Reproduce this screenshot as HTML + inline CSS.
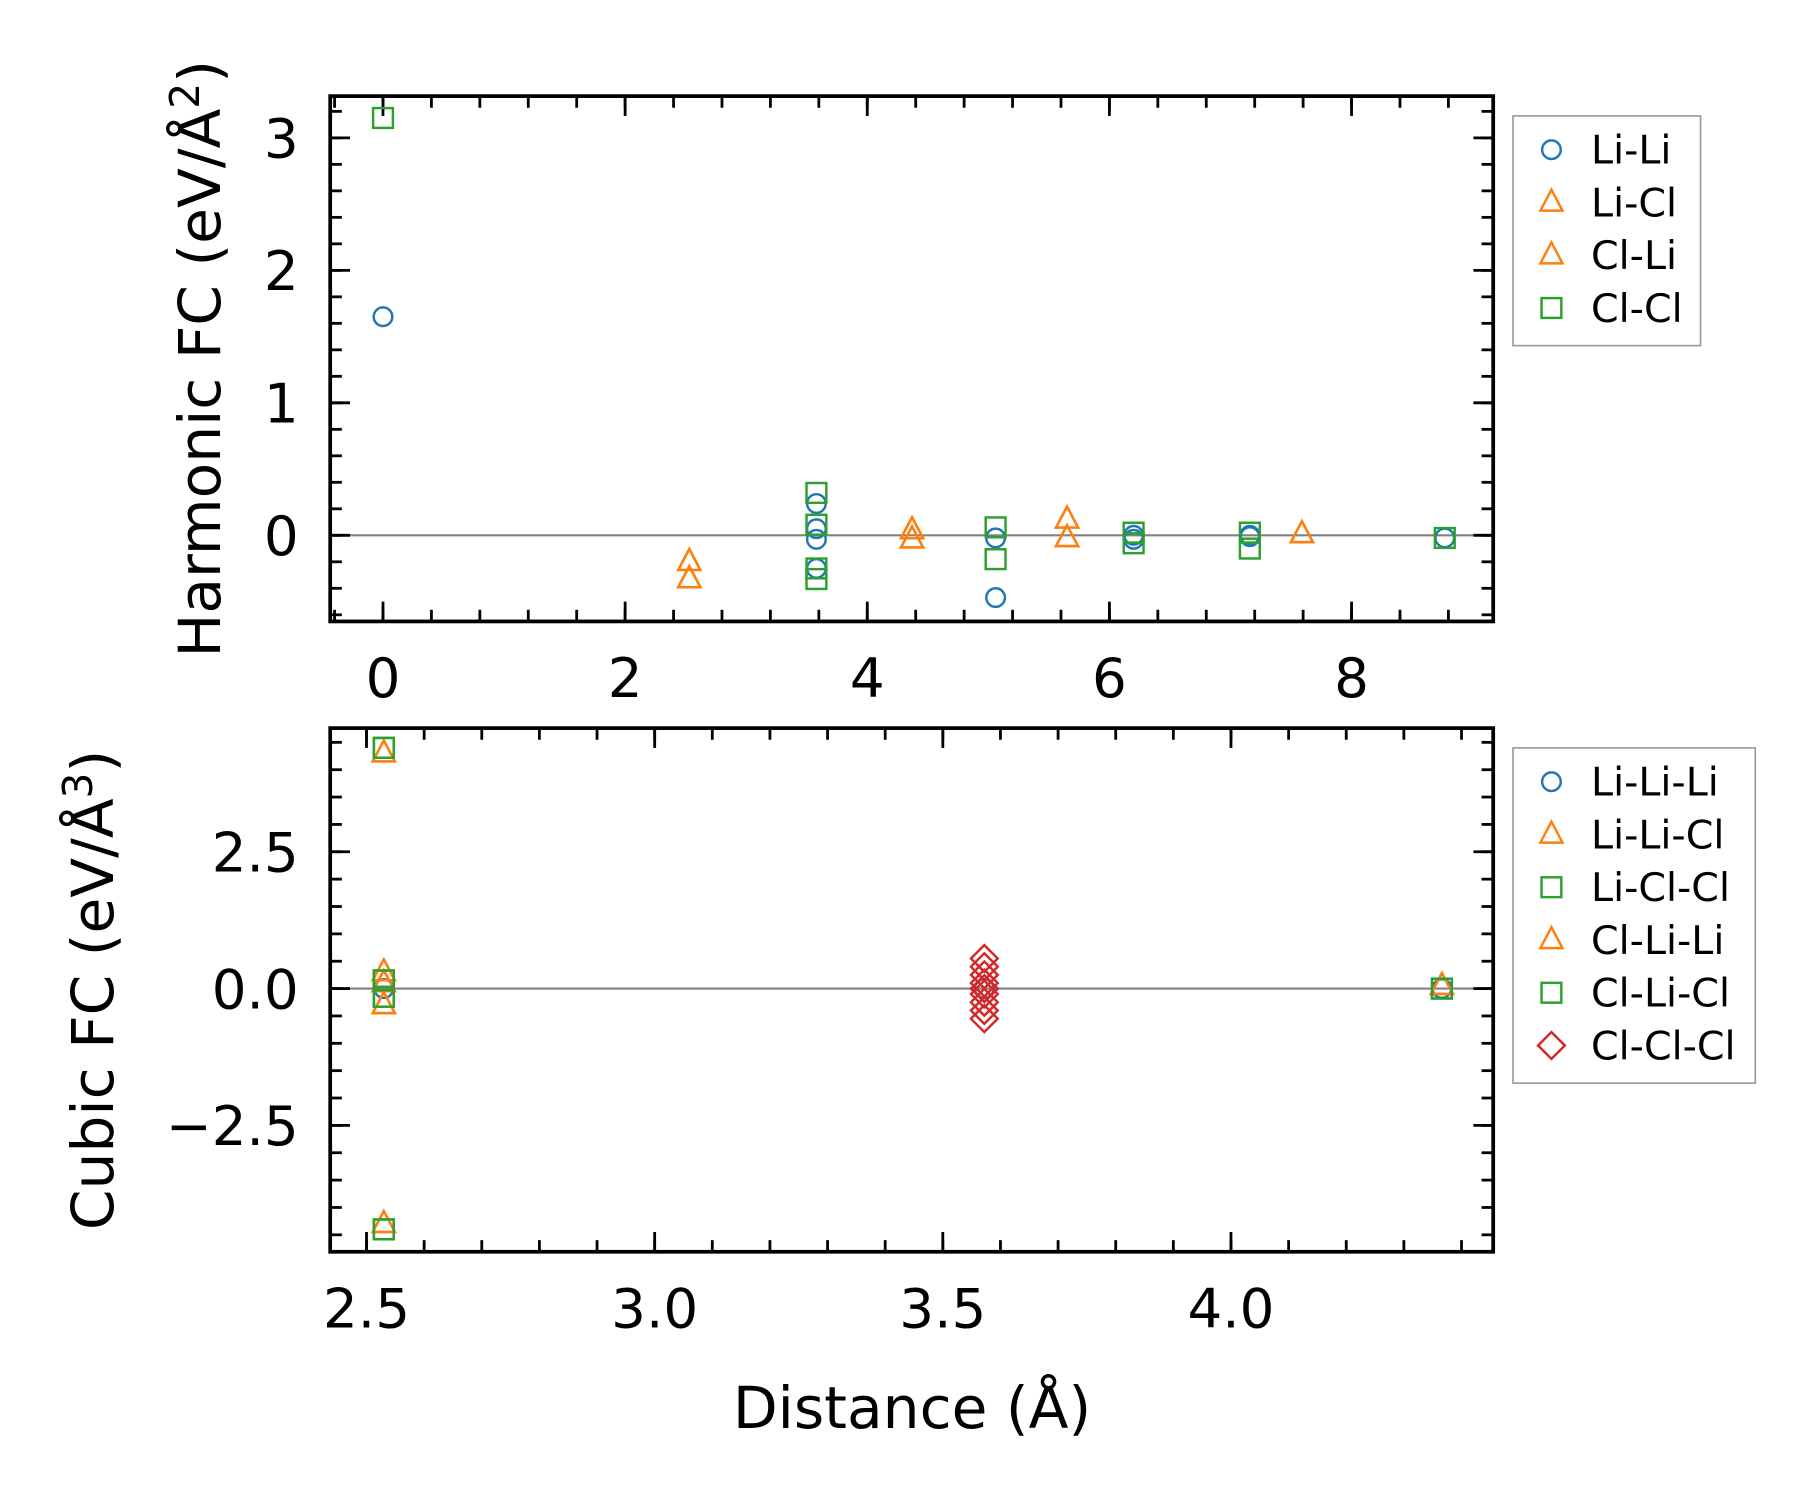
<!DOCTYPE html>
<html><head><meta charset="utf-8"><style>
html,body{margin:0;padding:0;background:#fff;}
svg{display:block;font-family:"DejaVu Sans","Liberation Sans",sans-serif;}
</style></head><body>
<svg id="fig" width="1817" height="1497" viewBox="0 0 1560 1285" xmlns="http://www.w3.org/2000/svg">
<rect width="1560" height="1285" fill="#fff"/>
<g id="top"></g>
<g id="bot"></g>
</svg>
<script>
// ---- Harmonic data ----
const hLiLiX=[0,3.58,3.58,3.58,3.58,5.06,5.06,6.2,6.2,7.16,7.16,8.77];
const hLiLiY=[1.65,0.24,0.05,-0.03,-0.25,-0.02,-0.47,-0.03,0.0,0.0,-0.01,-0.02];
const hLiClX=[2.53,2.53,4.37,4.37,5.65,5.65,7.59];
const hLiClY=[-0.2,-0.33,0.04,-0.03,0.12,-0.02,0.01];
const hClLiX=[2.53,2.53,4.37,4.37,5.65,5.65,7.59];
const hClLiY=[-0.2,-0.33,0.04,-0.03,0.12,-0.02,0.01];
const hClClX=[0,3.58,3.58,3.58,3.58,5.06,5.06,6.2,6.2,7.16,7.16,8.77];
const hClClY=[3.15,0.32,0.08,-0.25,-0.33,0.06,-0.18,0.02,-0.06,0.02,-0.1,-0.02];
const hXTicks=[0,2,4,6,8];
const hYTicks=[0,1,2,3];
// ---- Cubic data ----
const cLLLX=[2.53,3.572,4.366];
const cLLLY=[0,0,0];
const cLLCX=[2.53,2.53,2.53,2.53,2.53,4.366];
const cLLCY=[4.3,-4.3,0.3,-0.3,0.1,0.05];
const cLCCX=[2.53,2.53,2.53,2.53,4.366];
const cLCCY=[4.4,-4.4,0.15,-0.15,0];
const cCLLX=[2.53,2.53,2.53,2.53,2.53,4.366];
const cCLLY=[4.3,-4.3,0.3,-0.3,0.1,0.05];
const cCLCX=[2.53,2.53,2.53,2.53,4.366];
const cCLCY=[4.4,-4.4,0.15,-0.15,0];
const cCCCX=[3.572,3.572,3.572,3.572,3.572,3.572,3.572,3.572,3.572];
const cCCCY=[0.55,0.4,0.25,0.1,0,-0.1,-0.25,-0.4,-0.55];
const cXTicks=[2.5,3.0,3.5,4.0];
const cXLabels=["2.5","3.0","3.5","4.0"];
const cYTicks=[-2.5,0,2.5];
const cYLabels=["\u22122.5","0.0","2.5"];

const NS="http://www.w3.org/2000/svg";
const C={blue:"#1f77b4",orange:"#ff7f0e",green:"#2ca02c",red:"#d62728"};
function mk(p,t,a){const e=document.createElementNS(NS,t);for(const k in a)e.setAttribute(k,a[k]);p.appendChild(e);return e;}
function marker(g,shape,cx,cy,col){
  let e;
  if(shape==="o"){e=mk(g,"circle",{cx:cx,cy:cy,r:8,fill:"none",stroke:col,"stroke-width":2.1});}
  else if(shape==="^"){e=mk(g,"polygon",{points:`${cx},${cy-11} ${cx-9.5},${cy+7} ${cx+9.5},${cy+7}`,fill:"none",stroke:col,"stroke-width":2.1});}
  else if(shape==="s"){e=mk(g,"rect",{x:cx-8.5,y:cy-8.5,width:17,height:17,fill:"none",stroke:col,"stroke-width":2.1});}
  else {e=mk(g,"polygon",{points:`${cx},${cy-11.5} ${cx+11.5},${cy} ${cx},${cy+11.5} ${cx-11.5},${cy}`,fill:"none",stroke:col,"stroke-width":2.1});}
  return e;
}
function panel(g,o){
  const L=283.5,R=1282,T=o.top,B=o.top+o.h;
  const sx=v=>L+(v-o.x0)/(o.x1-o.x0)*(R-L);
  const sy=v=>B-(v-o.y0)/(o.y1-o.y0)*(B-T);
  mk(g,"line",{x1:L,x2:R,y1:sy(0),y2:sy(0),stroke:"#808080","stroke-width":1.8});
  for(let v=Math.ceil(o.x0/o.xm)*o.xm;v<=o.x1;v+=o.xm){const x=sx(v);
    mk(g,"line",{x1:x,x2:x,y1:B,y2:B-10,stroke:"#000","stroke-width":2.4});
    mk(g,"line",{x1:x,x2:x,y1:T,y2:T+10,stroke:"#000","stroke-width":2.4});}
  for(let v=Math.ceil(o.y0/o.ym)*o.ym;v<=o.y1;v+=o.ym){const y=sy(v);
    mk(g,"line",{x1:L,x2:L+10,y1:y,y2:y,stroke:"#000","stroke-width":2.4});
    mk(g,"line",{x1:R,x2:R-10,y1:y,y2:y,stroke:"#000","stroke-width":2.4});}
  o.xt.forEach((v,i)=>{const x=sx(v);
    mk(g,"line",{x1:x,x2:x,y1:B,y2:B-17,stroke:"#000","stroke-width":2.4});
    mk(g,"line",{x1:x,x2:x,y1:T,y2:T+17,stroke:"#000","stroke-width":2.4});
    const t=mk(g,"text",{x:x,y:B+65,"text-anchor":"middle","font-size":47});t.textContent=o.xl[i];
    
    });
  o.yt.forEach((v,i)=>{const y=sy(v);
    mk(g,"line",{x1:L,x2:L+17,y1:y,y2:y,stroke:"#000","stroke-width":2.4});
    mk(g,"line",{x1:R,x2:R-17,y1:y,y2:y,stroke:"#000","stroke-width":2.4});
    const t=mk(g,"text",{x:L-27,y:y+17,"text-anchor":"end","font-size":47});t.textContent=o.yl[i];
    
    });
  o.series.forEach(s=>{
    const sg=mk(g,"g",{});
    
    
    s.x.forEach((xv,i)=>{const m=marker(sg,s.shape,sx(xv),sy(s.y[i]),s.col);
      
      });
  });
  mk(g,"rect",{x:L,y:T,width:R-L,height:B-T,fill:"none",stroke:"#000","stroke-width":3.2});
  const lg=mk(g,"g",{});
  
  
  const lh=45.3*o.series.length+16;
  mk(lg,"rect",{x:1299,y:T+17,width:o.lw,height:lh,fill:"#fff",stroke:"#999","stroke-width":1.4});
  o.series.forEach((s,i)=>{const y=T+46+i*45.3;
    const m=marker(lg,s.shape,1332,y,s.col);
    
    
    const t=mk(lg,"text",{x:1366,y:y+12,"font-size":34});t.textContent=s.name;
    
    });
  const yl=mk(g,"text",{transform:`translate(${o.ylx},${(T+B)/2}) rotate(-90)`,"text-anchor":"middle","font-size":50});
  yl.innerHTML=o.ylab;
  
  
}
panel(document.getElementById("top"),{top:82.4,h:451,x0:-0.436,x1:9.17,y0:-0.65,y1:3.315,xm:0.4,ym:0.2,
  xt:hXTicks,xl:hXTicks.map(String),yt:hYTicks,yl:hYTicks.map(String),lw:161,ylx:189,
  ylab:'Harmonic FC (eV/Å<tspan dy="-18" font-size="35">2</tspan><tspan dy="18">)</tspan>',
  series:[{name:"Li-Li",shape:"o",col:C.blue,x:hLiLiX,y:hLiLiY},
          {name:"Li-Cl",shape:"^",col:C.orange,x:hLiClX,y:hLiClY},
          {name:"Cl-Li",shape:"^",col:C.orange,x:hClLiX,y:hClLiY},
          {name:"Cl-Cl",shape:"s",col:C.green,x:hClClX,y:hClClY}]});
panel(document.getElementById("bot"),{top:625,h:449.6,x0:2.437,x1:4.455,y0:-4.81,y1:4.76,xm:0.1,ym:0.5,
  xt:cXTicks,xl:cXLabels,yt:cYTicks,yl:cYLabels,lw:208,ylx:97,
  ylab:'Cubic FC (eV/Å<tspan dy="-18" font-size="35">3</tspan><tspan dy="18">)</tspan>',
  series:[{name:"Li-Li-Li",shape:"o",col:C.blue,x:cLLLX,y:cLLLY},
          {name:"Li-Li-Cl",shape:"^",col:C.orange,x:cLLCX,y:cLLCY},
          {name:"Li-Cl-Cl",shape:"s",col:C.green,x:cLCCX,y:cLCCY},
          {name:"Cl-Li-Li",shape:"^",col:C.orange,x:cCLLX,y:cCLLY},
          {name:"Cl-Li-Cl",shape:"s",col:C.green,x:cCLCX,y:cCLCY},
          {name:"Cl-Cl-Cl",shape:"D",col:C.red,x:cCCCX,y:cCCCY}]});
const xt=mk(document.getElementById("fig"),"text",{x:783,y:1226,"text-anchor":"middle","font-size":50});
xt.textContent="Distance (Å)";


</script>
</body></html>
